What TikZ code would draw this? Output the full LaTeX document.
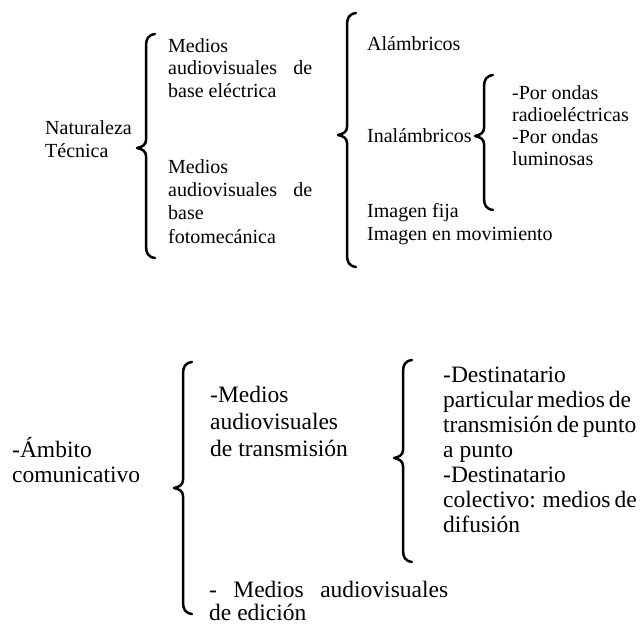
\documentclass[tikz,border=0pt]{standalone}
\usepackage{fontspec}
\setmainfont{Liberation Serif}

% curly brace: x, top, tip, bottom
\newcommand{\llave}[4]{%
  \draw[brc] (#1+9,#2) .. controls (#1+2,#2+1) and (#1,#2+5) .. (#1,#2+12)
    -- (#1,#3-8) .. controls (#1,#3-3) and (#1-4,#3-1) .. (#1-9,#3)
    .. controls (#1-4,#3+1) and (#1,#3+3) .. (#1,#3+8)
    -- (#1,#4-12) .. controls (#1,#4-5) and (#1+2,#4-1) .. (#1+9,#4);}

\begin{document}
\begin{tikzpicture}[x=1pt, y=-1pt,
    brc/.style = {line width=2.5pt, line cap=round, line join=round},
    small/.style = {anchor=base west, inner sep=0pt, align=left, font=\fontsize{20}{22.5}\selectfont},
    large/.style = {anchor=base west, inner sep=0pt, align=left, font=\fontsize{23.5}{25}\selectfont}]
    \useasboundingbox (0,0) rectangle (643,624);

    % Naturaleza tecnica (nodes placed at the baseline of their last line)
    \node[small] (nat)  at (45,157)  {Naturaleza\\Técnica};
    \node[small] (elec) at (168,97)  {Medios\\\makebox[144pt][s]{audiovisuales de}\\base eléctrica};
    \node[small, font=\fontsize{20}{23.3}\selectfont] (foto) at (168,243) {Medios\\\makebox[144pt][s]{audiovisuales de}\\base\\fotomecánica};
    \node[small] (alam) at (367,50)  {Alámbricos};
    \node[small] (inal) at (367,142) {Inalámbricos};
    \node[small, font=\fontsize{20}{21.7}\selectfont] (onda) at (512,165) {-Por ondas\\radioeléctricas\\-Por ondas\\luminosas};
    \node[small] (imag) at (367,240) {Imagen fija\\Imagen en movimiento};

    \llave{146}{34}{148}{258}
    \llave{347}{13}{135}{267}
    \llave{484}{75}{136}{210}

    % Ambito comunicativo
    \node[large] (amb)  at (12,482)  {-Ámbito\\comunicativo};
    \node[large, font=\fontsize{23.5}{27}\selectfont] (tran) at (210,456) {-Medios\\audiovisuales\\de transmisión};
    \node[large] (dest) at (443,532) {-Destinatario\\\makebox[185pt][s]{particular medios de}\\\makebox[185pt][s]{transmisión de punto}\\a punto\\-Destinatario\\\makebox[185pt][s]{colectivo: medios de}\\difusión};
    \node[large, font=\fontsize{23.5}{22.5}\selectfont] (edic) at (209,620) {\makebox[239pt][s]{- Medios audiovisuales}\\de edición};

    \llave{183}{362}{488}{614}
    \llave{403}{360}{458}{562}
\end{tikzpicture}
\end{document}
